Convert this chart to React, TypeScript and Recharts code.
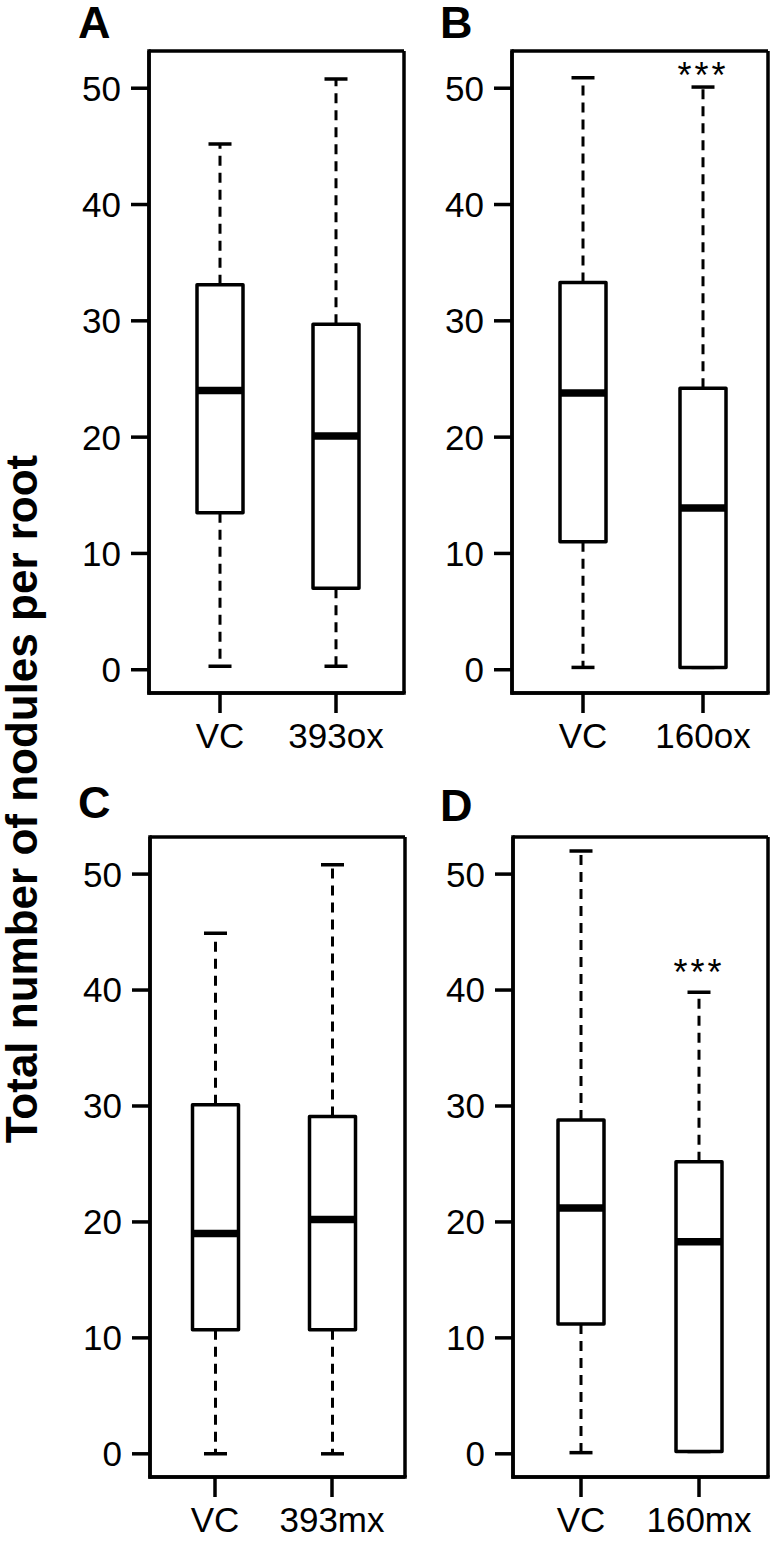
import React from "react";
import { ComposedChart, Bar, XAxis, YAxis, CartesianGrid, ReferenceDot } from "recharts";

const FONT = "'Liberation Sans', Arial, Helvetica, sans-serif";

// panel A
const groupsA = ["VC", "393ox"];
const minA = [0.3, 0.3];
const q1A = [13.5, 7.0];
const medA = [24.0, 20.1];
const q3A = [33.1, 29.7];
const maxA = [45.2, 50.8];

// panel B
const groupsB = ["VC", "160ox"];
const minB = [0.2, 0.2];
const q1B = [11.0, 0.2];
const medB = [23.8, 13.9];
const q3B = [33.3, 24.2];
const maxB = [50.9, 50.1];

// panel C
const groupsC = ["VC", "393mx"];
const minC = [0, 0];
const q1C = [10.7, 10.7];
const medC = [19.0, 20.2];
const q3C = [30.1, 29.1];
const maxC = [44.9, 50.8];

// panel D
const groupsD = ["VC", "160mx"];
const minD = [0.1, 0.2];
const q1D = [11.2, 0.2];
const medD = [21.2, 18.3];
const q3D = [28.8, 25.2];
const maxD = [52.0, 39.8];

const yTicks = [0, 10, 20, 30, 40, 50];
const yDomain: [number, number] = [-2, 53.2];

function makeRows(groups: string[], mn: number[], q1: number[], med: number[], q3: number[], mx: number[]) {
  return groups.map((name, i) => ({
    name,
    range: [mn[i], mx[i]],
    min: mn[i],
    q1: q1[i],
    med: med[i],
    q3: q3[i],
    max: mx[i],
  }));
}

const black = { stroke: "#000", strokeWidth: 3.5, strokeLinecap: "square" as const };

// frame lines on the plot area edges
const frameH = (p: any) => {
  const o = p.offset || p;
  return [o.top, o.top + o.height];
};
const frameV = (p: any) => {
  const o = p.offset || p;
  return [o.left, o.left + o.width];
};

function BoxShape(props: any) {
  const { x, y, width, height, payload } = props;
  const top = Math.min(y, y + height);
  const bottom = Math.max(y, y + height);
  const k = (bottom - top) / (payload.max - payload.min);
  const py = (v: number) => bottom - (v - payload.min) * k;
  const cx = x + width / 2;
  const cap = width / 4;
  return (
    <g>
      <line x1={cx} x2={cx} y1={py(payload.q3)} y2={py(payload.max)} stroke="#000" strokeWidth={3} strokeDasharray="10 7" />
      <line x1={cx} x2={cx} y1={py(payload.q1)} y2={py(payload.min)} stroke="#000" strokeWidth={3} strokeDasharray="10 7" />
      <line x1={cx - cap} x2={cx + cap} y1={py(payload.max)} y2={py(payload.max)} stroke="#000" strokeWidth={3.5} />
      <line x1={cx - cap} x2={cx + cap} y1={py(payload.min)} y2={py(payload.min)} stroke="#000" strokeWidth={3.5} />
      <rect
        x={x}
        y={py(payload.q3)}
        width={width}
        height={py(payload.q1) - py(payload.q3)}
        fill="#fff"
        stroke="#000"
        strokeWidth={3.5}
        strokeLinejoin="round"
      />
      <line x1={x} x2={x + width} y1={py(payload.med)} y2={py(payload.med)} stroke="#000" strokeWidth={7.5} />
    </g>
  );
}

interface PanelProps {
  data: any[];
  left: number;
  top: number;
  width: number;
  height: number;
  yWidth: number;
  mTop: number;
  mRight: number;
  pad: [number, number];
  sig?: { x: string; y: number };
}

function Panel({ data, left, top, width, height, yWidth, mTop, mRight, pad, sig }: PanelProps) {
  return (
    <div style={{ position: "absolute", left, top }}>
      <ComposedChart width={width} height={height} data={data} margin={{ top: mTop, right: mRight, bottom: 0, left: 0 }}>
        <CartesianGrid
          stroke="#000"
          strokeWidth={3.5}
          horizontalCoordinatesGenerator={frameH}
          verticalCoordinatesGenerator={frameV}
        />
        <XAxis
          dataKey="name"
          height={67}
          interval={0}
          padding={{ left: pad[0], right: pad[1] }}
          tickSize={20}
          tickMargin={10}
          tick={{ fontSize: 35, fill: "#000", fontFamily: FONT }}
          tickLine={{ stroke: "#000", strokeWidth: 3.5 }}
          axisLine={black}
        />
        <YAxis
          type="number"
          domain={yDomain}
          ticks={yTicks}
          allowDataOverflow
          width={yWidth}
          tickSize={18}
          tickMargin={10}
          tick={{ fontSize: 35, fill: "#000", fontFamily: FONT }}
          tickLine={{ stroke: "#000", strokeWidth: 3.5 }}
          axisLine={black}
        />
        <Bar dataKey="range" barSize={46} shape={BoxShape} isAnimationActive={false} />
        {sig && (
          <ReferenceDot
            x={sig.x}
            y={sig.y}
            r={0}
            fill="none"
            stroke="none"
            label={{ value: "***", position: "center", fontSize: 36, fill: "#000", fontFamily: FONT, letterSpacing: 3 }}
          />
        )}
      </ComposedChart>
    </div>
  );
}

export default function App() {
  return (
    <div style={{ position: "absolute", left: 0, top: 0, width: 775, height: 1542, background: "#fff" }}>
      <Panel data={makeRows(groupsA, minA, q1A, medA, q3A, maxA)} left={0} top={0} width={420} height={760}
        yWidth={149} mTop={51} mRight={16} pad={[13, 10]} />
      <Panel data={makeRows(groupsB, minB, q1B, medB, q3B, maxB)} left={420} top={0} width={355} height={760}
        yWidth={92} mTop={51} mRight={7} pad={[11, 5]} sig={{ x: "160ox", y: 51.1 }} />
      <Panel data={makeRows(groupsC, minC, q1C, medC, q3C, maxC)} left={0} top={770} width={420} height={774}
        yWidth={150} mTop={67} mRight={15} pad={[6.5, 14.5]} />
      <Panel data={makeRows(groupsD, minD, q1D, medD, q3D, maxD)} left={420} top={770} width={355} height={774}
        yWidth={93} mTop={67} mRight={7} pad={[9, 10]} sig={{ x: "160mx", y: 41.5 }} />
      <svg width={775} height={1542} style={{ position: "absolute", left: 0, top: 0, pointerEvents: "none" }}>
        <g fontFamily={FONT} fontWeight="bold" fill="#000">
          <text x={78} y={38} fontSize={45}>A</text>
          <text x={440} y={38} fontSize={45}>B</text>
          <text x={78} y={818} fontSize={45}>C</text>
          <text x={440} y={821} fontSize={45}>D</text>
          <text x={37} y={799} fontSize={44} textAnchor="middle" transform="rotate(-90 37 799)">
            Total number of nodules per root
          </text>
        </g>
      </svg>
    </div>
  );
}
